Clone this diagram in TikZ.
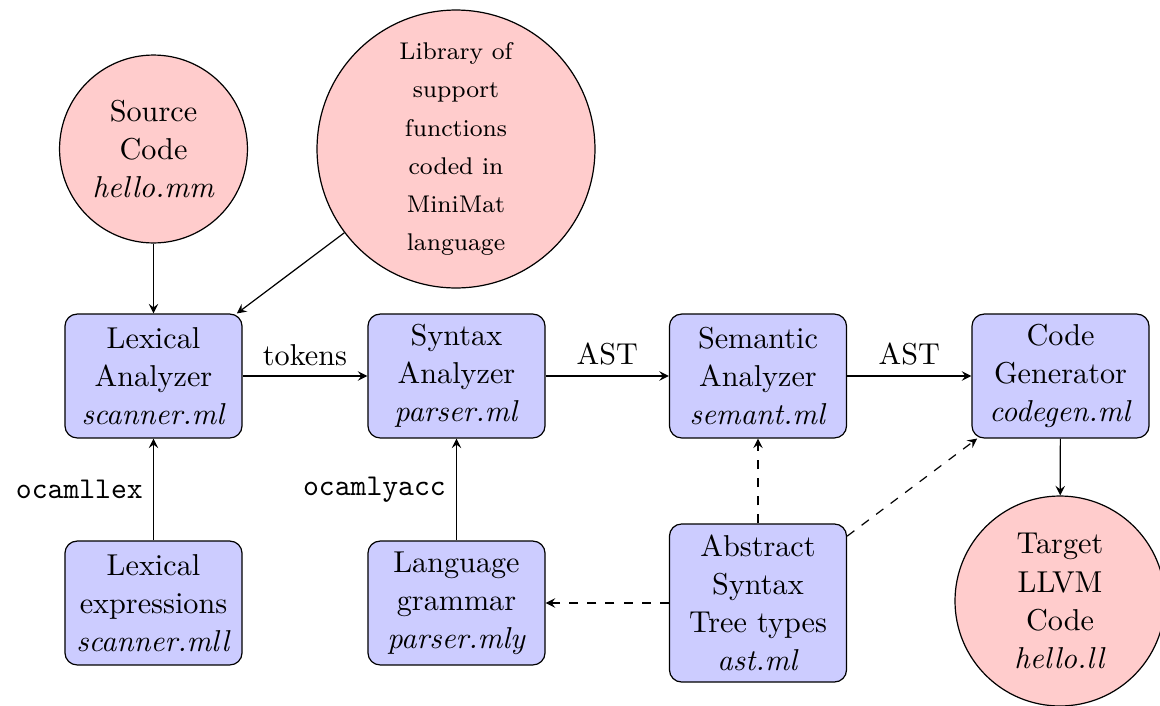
\documentclass[tikz,border=0pt]{standalone}
\usetikzlibrary{arrows.meta}
\begin{document}
\begin{tikzpicture}[x=0.331pt,y=-0.331pt]
\tikzset{
 proc/.style={draw=black, fill=blue!20, rounded corners=4pt, align=center, minimum width=58.6pt, minimum height=41pt, inner sep=3pt, font=\fontsize{10}{12.6}\selectfont},
 res/.style={draw=black, fill=red!20, circle, align=center, inner sep=0pt, font=\fontsize{10}{12.6}\selectfont},
 arr/.style={->, >=stealth},
 dep/.style={->, >=stealth, dashed},
 lab/.style={font=\ttfamily}
}
\useasboundingbox (0,0) rectangle (1160,705);
\node[res, minimum size=62.2pt] (src) at (153.5,149) {Source\\Code\\\textit{hello.mm}};
\node[res, minimum size=92pt, font=\fontsize{8}{12.6}\selectfont] (lib) at (456,149) {Library of\\support\\functions\\coded in\\MiniMat\\language};
\node[proc] (lex) at (153.5,376) {Lexical\\Analyzer\\\textit{scanner.ml}};
\node[proc] (syn) at (456.5,376) {Syntax\\Analyzer\\\textit{parser.ml}};
\node[proc] (sem) at (758,376) {Semantic\\Analyzer\\\textit{semant.ml}};
\node[proc] (gen) at (1060.5,376) {Code\\Generator\\\textit{codegen.ml}};
\node[proc] (lexexp) at (153.5,603) {Lexical\\expressions\\\textit{scanner.mll}};
\node[proc] (gram) at (456.5,603) {Language\\grammar\\\textit{parser.mly}};
\node[proc, minimum height=52.3pt] (ast) at (758,603) {Abstract\\Syntax\\Tree types\\\textit{ast.ml}};
\node[res, minimum size=69.5pt] (tgt) at (1060,601) {Target\\LLVM\\Code\\\textit{hello.ll}};
\draw[arr] (src) -- (lex);
\draw[arr] (lib) -- (lex);
\draw[arr] (lex) -- node[above]{tokens} (syn);
\draw[arr] (syn) -- node[above]{AST} (sem);
\draw[arr] (sem) -- node[above]{AST} (gen);
\draw[arr] (gen) -- (tgt);
\draw[arr] (lexexp) -- node[left,lab]{ocamllex} (lex);
\draw[arr] (gram) -- node[left,lab]{ocamlyacc} (syn);
\draw[dep] (ast) -- (sem);
\draw[dep] (ast) -- (gen);
\draw[dep] (ast) -- (gram);
\end{tikzpicture}
\end{document}
